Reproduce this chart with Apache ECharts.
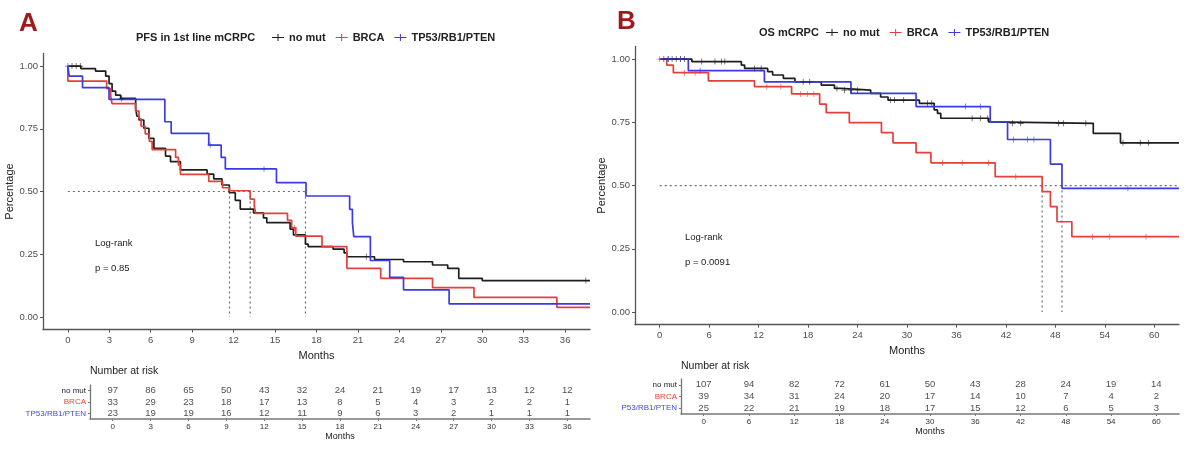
<!DOCTYPE html>
<html><head><meta charset="utf-8">
<script src="https://cdn.jsdelivr.net/npm/echarts@6/dist/echarts.min.js"></script>
<style>html,body{margin:0;padding:0;background:#fff}#c{width:1200px;height:455px}</style>
</head><body><div id="c"></div>
<script>
// ---------- DATA ----------
const groupNames = ['no mut', 'BRCA', 'TP53/RB1/PTEN'];
const rowLabelsA = ['no mut', 'BRCA', 'TP53/RB1/PTEN'];
const rowLabelsB = ['no mut', 'BRCA', 'P53/RB1/PTEN'];
const monthsA = [0,3,6,9,12,15,18,21,24,27,30,33,36];
const monthsB = [0,6,12,18,24,30,36,42,48,54,60];
const survTicks = [0,0.25,0.5,0.75,1];

// PFS (panel A) Kaplan-Meier steps [month, survival after step]
const pfsNoMut = [[0,1],[0.94,0.99],[2.0,0.98],[2.74,0.96],[2.98,0.93],[3.2,0.90],[3.46,0.884],[3.82,0.871],[4.91,0.83],[5.0,0.80],[5.15,0.785],[5.5,0.752],[5.87,0.712],[6.23,0.672],[7.07,0.641],[7.43,0.619],[8.15,0.586],[10.08,0.569],[10.56,0.55],[11.16,0.526],[11.69,0.495],[12.12,0.465],[12.48,0.43],[13.44,0.415],[14.16,0.395],[14.4,0.376],[16.09,0.35],[16.33,0.327],[17.2,0.29],[17.4,0.28],[19.2,0.27],[20.0,0.255],[20.2,0.24],[22.2,0.229],[24.3,0.22],[26.4,0.207],[27.5,0.194],[28.3,0.154],[30.0,0.145],[37.8,0.145]];
const pfsBrca = [[0,1],[0,0.94],[2.81,0.91],[3.1,0.88],[3.2,0.85],[4.9,0.82],[5.15,0.79],[5.3,0.76],[5.6,0.73],[5.9,0.70],[6.1,0.667],[7.8,0.636],[8.0,0.606],[8.15,0.568],[10.2,0.54],[11.2,0.515],[11.7,0.503],[13.2,0.47],[13.5,0.44],[13.6,0.413],[15.9,0.385],[16.2,0.355],[16.5,0.322],[18.4,0.28],[20.2,0.194],[22.65,0.154],[26.4,0.117],[29.4,0.078],[35.4,0.038],[37.8,0.038]];
const pfsTp53 = [[0,1],[0.1,0.96],[1.06,0.914],[2.98,0.867],[7.02,0.778],[7.48,0.732],[10.2,0.685],[11.1,0.636],[11.4,0.59],[15.1,0.535],[17.24,0.482],[20.4,0.429],[20.6,0.376],[20.7,0.32],[21.9,0.225],[23.3,0.158],[24.3,0.108],[27.6,0.052],[37.8,0.052]];
const pfsCensNoMut = [0.3,0.6,0.9,3.9,21.6,37.5];
const pfsCensBrca = [16.4];
const pfsCensTp53 = [0,10.3,14.2];

// OS (panel B)
const osNoMut = [[0,1],[3.9,0.99],[9.9,0.976],[10.3,0.963],[13.1,0.95],[13.7,0.937],[15.0,0.924],[16.4,0.91],[19.6,0.897],[21.2,0.884],[22.0,0.877],[25.6,0.864],[26.8,0.85],[27.7,0.838],[31.5,0.825],[33.3,0.799],[33.7,0.785],[34.1,0.766],[39.9,0.752],[40.3,0.746],[52.6,0.706],[55.9,0.669],[63,0.669]];
const osBrca = [[0,1],[0.85,0.976],[1.65,0.946],[5.9,0.914],[11.5,0.891],[16.0,0.862],[19.4,0.822],[20.2,0.788],[23.0,0.749],[26.9,0.709],[28.3,0.669],[31.1,0.63],[32.9,0.59],[40.7,0.535],[46.4,0.476],[47.4,0.417],[48.2,0.357],[50.0,0.298],[63,0.298]];
const osTp53 = [[0,1],[3.47,0.954],[12.7,0.91],[23.2,0.864],[31.1,0.812],[40.1,0.752],[42.2,0.682],[47.4,0.585],[48.8,0.489],[63,0.489]];
const osCensNoMut = [0.5,1.0,1.5,2.0,2.5,3.0,5.1,6.7,7.5,7.9,11.5,12.3,17.4,18.2,21.5,22.4,23.2,24.0,28.0,28.5,29.6,32.5,33.0,37.9,38.9,39.8,42.8,43.8,48.4,49.0,51.7,56.2,58.3,59.3];
const osCensBrca = [0,3.0,4.3,13.0,14.7,17.1,17.9,18.7,34.3,36.7,39.9,43.2,52.5,54.6,59.0];
const osCensTp53 = [1.05,2.5,4.9,37.1,38.9,42.9,44.6,45.4,56.8];

// medians
const mediansA = [11.7, 13.2, 17.2];
const medianLineEndA = 17.2;
const mediansB = [46.4, 48.8];
const medianLineEndB = 63;

// number at risk
const riskA = {
  'no mut': [97,86,65,50,43,32,24,21,19,17,13,12,12],
  'BRCA': [33,29,23,18,17,13,8,5,4,3,2,2,1],
  'TP53/RB1/PTEN': [23,19,19,16,12,11,9,6,3,2,1,1,1]
};
const riskB = {
  'no mut': [107,94,82,72,61,50,43,28,24,19,14],
  'BRCA': [39,34,31,24,20,17,14,10,7,4,2],
  'P53/RB1/PTEN': [25,22,21,19,18,17,15,12,6,5,3]
};

// ---------- STYLE ----------
const FONT = "'Liberation Sans', Arial, Helvetica, sans-serif";
const COL = {black:'#1e1e1e', red:'#e2403a', blue:'#3a3ae6'};
const rowColor = {'no mut':'#222', 'BRCA':'#e8453e', 'TP53/RB1/PTEN':'#4646f0', 'P53/RB1/PTEN':'#4646f0'};
const AX = '#555';
const PLUS = 'path://M0,4.4H10V5.6H0Z M4.4,0H5.6V10H4.4Z';
const LEG = 'path://M0,4.4H14V5.6H0Z M6.4,1H7.6V9H6.4Z';

function survAt(curve, t){ let s = curve[0][1]; for (const p of curve){ if (p[0] <= t) s = p[1]; else break; } return s; }

function km(name, data, color, ai){
  return {name, type:'line', step:'end', data, xAxisIndex:ai, yAxisIndex:ai, showSymbol:false, symbol:'none',
    lineStyle:{color, width:1.7}, itemStyle:{color}, z:3, silent:true, animation:false};
}
function cens(name, times, curve, color, ai){
  return {name: name + ' censor', type:'scatter', data: times.map(t => [t, survAt(curve, t)]), symbol: PLUS, symbolSize: 6,
    itemStyle:{color}, xAxisIndex:ai, yAxisIndex:ai, z:4, silent:true, animation:false};
}
function dotted(data, ai){
  return {type:'line', data, xAxisIndex:ai, yAxisIndex:ai, showSymbol:false, symbol:'none', silent:true,
    lineStyle:{color:'#6e6e6e', width:1.2, type:[2,3]}, z:2, animation:false};
}
function riskSeries(risk, months, ai){
  const data = [];
  Object.keys(risk).forEach(row => risk[row].forEach((v, i) => data.push([months[i], row, v])));
  return {type:'scatter', data, xAxisIndex:ai, yAxisIndex:ai, symbol:'circle', symbolSize:0.1,
    itemStyle:{color:'rgba(0,0,0,0)'}, silent:true, animation:false,
    label:{show:true, position:'inside', formatter:p => String(p.value[2]), fontSize:9.5, color:'#222', fontFamily:FONT}};
}

function mainX(gi, min, max, ticks){
  return {gridIndex:gi, type:'value', min, max,
    axisLine:{show:true, onZero:false, lineStyle:{color:AX, width:1.3}},
    axisTick:{show:true, customValues:ticks, length:3, lineStyle:{color:AX}},
    axisLabel:{customValues:ticks, fontSize:9.5, color:'#4d4d4d', margin:6, fontFamily:FONT},
    splitLine:{show:false},
    name:'Months', nameLocation:'middle', nameGap:17, nameTextStyle:{fontSize:11, color:'#222', fontFamily:FONT}};
}
function mainY(gi, gap){
  return {gridIndex:gi, type:'value', min:-0.05, max:1.05,
    axisLine:{show:true, onZero:false, lineStyle:{color:AX, width:1.3}},
    axisTick:{show:true, customValues:survTicks, length:3, lineStyle:{color:AX}},
    axisLabel:{customValues:survTicks, formatter:v => Number(v).toFixed(2), fontSize:9.5, color:'#4d4d4d', margin:5, fontFamily:FONT},
    splitLine:{show:false},
    name:'Percentage', nameLocation:'middle', nameGap:gap, nameTextStyle:{fontSize:11, color:'#222', fontFamily:FONT}};
}
function tableX(gi, min, max, ticks){
  return {gridIndex:gi, type:'value', min, max,
    axisLine:{show:true, onZero:false, lineStyle:{color:'#777', width:1.5}},
    axisTick:{show:true, customValues:ticks, length:2, lineStyle:{color:'#777'}},
    axisLabel:{customValues:ticks, fontSize:8, color:'#333', margin:4, fontFamily:FONT},
    splitLine:{show:false},
    name:'Months', nameLocation:'middle', nameGap:13, nameTextStyle:{fontSize:9, color:'#222', fontFamily:FONT}};
}
function tableY(gi, rows){
  return {gridIndex:gi, type:'category', data:rows, inverse:true,
    axisLine:{show:true, onZero:false, lineStyle:{color:'#777', width:1.3}},
    axisTick:{show:true, alignWithLabel:true, length:2, lineStyle:{color:'#777'}},
    axisLabel:{fontSize:8, margin:4, fontFamily:FONT, color:(v) => rowColor[v] || '#222'},
    splitLine:{show:false}};
}

const series = [];
// panel A
series.push(km(groupNames[0], pfsNoMut, COL.black, 0));
series.push(km(groupNames[1], pfsBrca, COL.red, 0));
series.push(km(groupNames[2], pfsTp53, COL.blue, 0));
series.push(cens('a0', pfsCensNoMut, pfsNoMut, COL.black, 0));
series.push(cens('a1', pfsCensBrca, pfsBrca, COL.red, 0));
series.push(cens('a2', pfsCensTp53, pfsTp53, COL.blue, 0));
series.push(dotted([[0,0.5],[medianLineEndA,0.5]], 0));
mediansA.forEach(m => series.push(dotted([[m,0.5],[m,0]], 0)));
series.push(riskSeries(riskA, monthsA, 1));
// panel B
series.push(km(groupNames[0], osNoMut, COL.black, 2));
series.push(km(groupNames[1], osBrca, COL.red, 2));
series.push(km(groupNames[2], osTp53, COL.blue, 2));
series.push(cens('b0', osCensNoMut, osNoMut, COL.black, 2));
series.push(cens('b1', osCensBrca, osBrca, COL.red, 2));
series.push(cens('b2', osCensTp53, osTp53, COL.blue, 2));
series.push(dotted([[0,0.5],[medianLineEndB,0.5]], 2));
mediansB.forEach(m => series.push(dotted([[m,0.5],[m,0]], 2)));
series.push(riskSeries(riskB, monthsB, 3));

const T = (text, left, top, size, weight, color) => ({text, left, top, padding:0,
  textStyle:{fontSize:size, fontWeight:weight||'normal', color:color||'#222', fontFamily:FONT}});

const legendBase = {data:groupNames, icon:LEG, itemWidth:12, itemHeight:9, itemGap:10, padding:0, selectedMode:false,
  textStyle:{fontSize:11, fontWeight:'bold', color:'#222', fontFamily:FONT}};

const option = {
  animation:false,
  backgroundColor:'#fff',
  title:[
    T('A', 19, 11, 26, 'bold', '#9e1b1b'),
    T('PFS in 1st line mCRPC', 136, 32, 11, 'bold'),
    T('B', 617, 9, 26, 'bold', '#9e1b1b'),
    T('OS mCRPC', 759, 27, 11, 'bold'),
    T('Number at risk', 90, 366, 10.5),
    T('Number at risk', 681, 361, 10.5),
    T('Log-rank', 95, 238, 9.5),
    T('p = 0.85', 95, 263, 9.5),
    T('Log-rank', 685, 232, 9.5),
    T('p = 0.0091', 685, 257, 9.5)
  ],
  legend:[
    Object.assign({left:272, top:32}, legendBase),
    Object.assign({left:826, top:27}, legendBase)
  ],
  grid:[
    {left:43, top:53.5, width:547, height:276, outerBoundsMode:'none'},
    {left:90, top:385, width:500, height:34, outerBoundsMode:'none'},
    {left:635, top:46.4, width:544, height:278.3, outerBoundsMode:'none'},
    {left:681, top:379, width:498, height:35, outerBoundsMode:'none'}
  ],
  xAxis:[
    mainX(0, -1.8, 37.8, monthsA),
    tableX(1, -1.8, 37.8, monthsA),
    mainX(2, -3, 63, monthsB),
    tableX(3, -3, 63, monthsB)
  ],
  yAxis:[
    mainY(0, 27),
    tableY(1, rowLabelsA),
    mainY(2, 26),
    tableY(3, rowLabelsB)
  ],
  series
};
const chart = echarts.init(document.getElementById('c'), null, {renderer:'canvas'});
chart.setOption(option);
</script>
</body></html>
